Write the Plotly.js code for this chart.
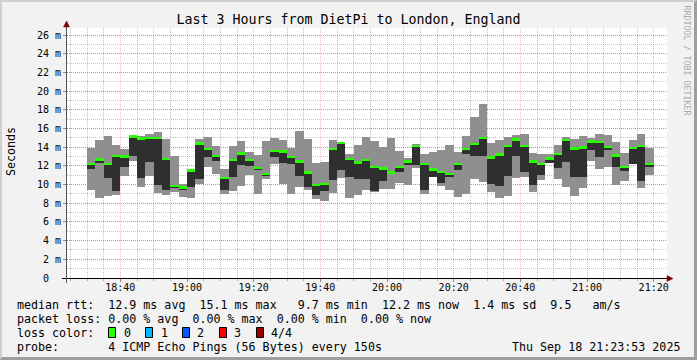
<!DOCTYPE html>
<html><head><meta charset="utf-8">
<script src="https://cdn.plot.ly/plotly-3.0.1.min.js"></script>
<style>
html,body{margin:0;padding:0;background:#f2f2f2;}
#wrap{position:relative;width:697px;height:360px;overflow:hidden;}
#chart{width:697px;height:360px;}
#frame{position:absolute;left:0;top:0;width:697px;height:360px;box-sizing:border-box;border-top:2px solid #cfcfcf;border-left:2px solid #cfcfcf;border-right:3px solid #9e9e9e;border-bottom:3px solid #9e9e9e;pointer-events:none;}
</style>
</head><body>
<div id="wrap"><div id="chart"></div><div id="frame"></div></div>
<script>
// ---- data (values in milliseconds) ----
const day = "2025-09-18";
const stepStart = [
 "18:30:00","18:32:30","18:35:00","18:37:30","18:40:00","18:42:30","18:45:00","18:47:30","18:50:00","18:52:30","18:55:00","18:57:30",
 "19:00:00","19:02:30","19:05:00","19:07:30","19:10:00","19:12:30","19:15:00","19:17:30","19:20:00","19:22:30","19:25:00","19:27:30",
 "19:30:00","19:32:30","19:35:00","19:37:30","19:40:00","19:42:30","19:45:00","19:47:30","19:50:00","19:52:30","19:55:00","19:57:30",
 "20:00:00","20:02:30","20:05:00","20:07:30","20:10:00","20:12:30","20:15:00","20:17:30","20:20:00","20:22:30","20:25:00","20:27:30",
 "20:30:00","20:32:30","20:35:00","20:37:30","20:40:00","20:42:30","20:45:00","20:47:30","20:50:00","20:52:30","20:55:00","20:57:30",
 "21:00:00","21:02:30","21:05:00","21:07:30","21:10:00","21:12:30","21:15:00","21:17:30"];
const pingMax = [13.92,14.74,15.17,14.2,13.78,15.28,15.17,15.46,15.6,14.85,13.05,10.04,
 11.54,14.85,15.1,14.1,11.65,14.1,14.67,13.5,13.14,14.67,14.99,14.82,
 13.92,15.74,14.85,12.32,12.43,14.74,14.56,13.32,14.28,15.1,14.67,14.03,
 14.99,13.57,12.79,14.32,13.25,13.5,13.68,14.21,13.5,15.17,17.24,18.59,
 14.46,14.74,15.1,15.28,15.38,13.39,13.25,13.25,14.21,15.1,14.85,15.17,
 14.99,15.38,15.28,14.56,13.39,14.74,15.38,13.96];
const pingMin = [9.47,8.58,8.76,8.9,10.93,12.53,9.76,10.93,9.11,8.87,9.15,8.69,
 8.58,10.11,11.9,11.11,8.94,9.33,9.86,10.97,8.97,10.58,12.18,10.04,
 8.97,9.76,9.4,8.44,8.23,9.11,10.65,8.58,8.87,9.47,9.15,9.51,
 9.51,10.18,9.94,11.82,8.97,10.76,9.86,9.4,8.69,8.97,10.58,10.29,
 9.22,8.58,8.76,10.65,10.76,9.22,10.47,12.32,10.58,9.76,8.76,9.65,
 12.53,11.65,11.9,9.94,10.4,12.18,9.65,11.0];
const innerHigh = [12.29,12.79,12.29,13.1,13.03,15.2,14.99,15.03,15.03,12.82,9.95,9.76,
 11.54,14.46,13.92,13.1,10.76,12.64,13.35,12.71,11.82,11.18,13.68,13.6,
 13.03,12.5,11.36,10.01,10.11,13.85,14.49,12.79,12.43,12.71,11.97,11.79,
 11.4,11.9,12.5,14.14,12.25,11.65,11.43,11.18,12.25,13.85,14.46,15.03,
 12.96,13.25,14.21,14.82,14.21,12.5,12.25,12.86,13.32,14.82,13.92,14.03,
 14.74,14.64,14.1,13.14,11.97,13.96,14.14,12.25];
const innerLow = [11.65,12.32,10.72,9.33,11.9,13.1,10.65,12.43,9.94,9.44,9.58,9.4,
 9.69,10.58,12.96,12.53,9.47,10.76,12.14,12.0,11.54,10.93,12.96,12.32,
 12.18,10.9,9.76,8.87,9.33,10.47,11.6,10.83,10.58,10.58,9.33,10.4,
 11.1,11.36,12.07,12.07,9.4,10.83,10.18,10.76,11.54,13.32,13.03,13.03,
 10.04,9.86,10.9,13.03,11.36,9.94,11.0,12.32,11.79,12.43,10.76,10.76,
 13.75,12.96,13.68,11.9,11.47,12.25,10.4,11.9];
const median = [12.2,12.7,12.2,13.05,13.0,15.15,14.95,15.0,15.0,12.75,9.85,9.7,
 11.5,14.4,13.8,13.05,10.7,12.6,13.3,12.65,11.75,11.1,13.6,13.55,
 12.95,12.45,11.3,9.95,10.05,13.8,14.45,12.75,12.35,12.65,11.9,11.7,
 11.3,11.85,12.45,14.1,12.2,11.6,11.35,11.1,12.2,13.8,14.35,15.0,
 12.9,13.2,14.15,14.8,14.15,12.45,12.2,12.8,13.25,14.75,13.85,13.95,
 14.6,14.55,14.0,13.1,11.85,13.9,14.1,12.2];
const yTickVals = [0,2,4,6,8,10,12,14,16,18,20,22,24,26];
const yTickText = ["0  ","2 m","4 m","6 m","8 m","10 m","12 m","14 m","16 m","18 m","20 m","22 m","24 m","26 m"];
const titleText = "Last 3 Hours from DietPi to London, England";
const legendRows = [
 "median rtt:  12.9 ms avg  15.1 ms max   9.7 ms min  12.2 ms now  1.4 ms sd  9.5   am/s",
 "packet loss: 0.00 % avg  0.00 % max  0.00 % min  0.00 % now",
 "loss color:",
 "probe:       4 ICMP Echo Pings (56 Bytes) every 150s"];
const lossLabels = ["0","1","2","3","4/4"];
const lossColors = ["#26ff00","#00b8ff","#0059ff","#ff0000","#a10000"];
const stampText = "Thu Sep 18 21:23:53 2025";
const yTitle = "Seconds";
const sideText = "RRDTOOL / TOBI OETIKER";

// ---- layout helpers (pixel -> paper) ----
const L=67,R=667,T=28,B=278;
const px = x => (x-L)/(R-L);
const py = y => (B-y)/(B-T);
const nb = s => s.replace(/ /g,"\u00a0");
const MONO = "DejaVu Sans Mono, monospace";

const xs = stepStart.map(t => day+" "+t);
const STEP = 150000;
const band = 0.13;

const traces = [
 {type:"bar", x:xs, base:pingMin, y:pingMax.map((v,i)=>v-pingMin[i]), width:STEP, offset:0,
  marker:{color:"#8f8f8f", line:{width:0}}, hoverinfo:"skip"},
 {type:"bar", x:xs, base:innerLow, y:innerHigh.map((v,i)=>v-innerLow[i]), width:STEP, offset:0,
  marker:{color:"#2f2f2f", line:{width:0}}, hoverinfo:"skip"},
 {type:"bar", x:xs, base:median.map(v=>v-band), y:median.map(()=>2*band), width:STEP, offset:0,
  marker:{color:lossColors[0], line:{width:0}}, hoverinfo:"skip"}
];

const gridMinor = "rgba(143,143,143,0.55)";
const gridMajor = "rgba(222,48,49,0.35)";

const annotations = [];
const rowsY = [304.5, 318.5, 332.5, 346.5];
legendRows.forEach((r,i)=>annotations.push({xref:"paper",yref:"paper",x:px(16),y:py(rowsY[i]),xanchor:"left",yanchor:"middle",
  text:nb(r),showarrow:false,borderpad:0,font:{family:MONO,size:11.66,color:"#000"}}));
const lossLabelX=[123,160,196.7,233.3,270];
const lossBoxX=[108.5,145.5,182.5,219.5,256.5];
const shapes = [];
lossLabels.forEach((lab,i)=>{
  annotations.push({xref:"paper",yref:"paper",x:px(lossLabelX[i]-0.5),y:py(rowsY[2]),xanchor:"left",yanchor:"middle",
   text:lab,showarrow:false,borderpad:0,font:{family:MONO,size:11.66,color:"#000"}});
  shapes.push({type:"rect",xref:"paper",yref:"paper",x0:px(lossBoxX[i]),x1:px(lossBoxX[i]+7),y0:py(327.5),y1:py(337.5),
   fillcolor:lossColors[i],line:{color:"#000",width:1}});
});
annotations.push({xref:"paper",yref:"paper",x:px(681),y:py(rowsY[3]),xanchor:"right",yanchor:"middle",
  text:nb(stampText),showarrow:false,borderpad:0,font:{family:MONO,size:11.66,color:"#000"}});
annotations.push({xref:"paper",yref:"paper",x:px(11),y:py(152),xanchor:"center",yanchor:"middle",textangle:-90,
  text:yTitle,showarrow:false,borderpad:0,font:{family:MONO,size:11.66,color:"#000"}});
annotations.push({xref:"paper",yref:"paper",x:px(686.5),y:py(60),xanchor:"center",yanchor:"middle",textangle:90,
  text:nb(sideText),showarrow:false,borderpad:0,font:{family:MONO,size:8.3,color:"#aaaaaa"}});

// axes & arrows
shapes.push({type:"line",xref:"paper",yref:"paper",x0:px(62),x1:px(668),y0:py(278.5),y1:py(278.5),line:{color:"#000",width:1}});
shapes.push({type:"line",xref:"paper",yref:"paper",x0:px(66.5),x1:px(66.5),y0:py(283),y1:py(26),line:{color:"#555",width:1}});
shapes.push({type:"path",xref:"paper",yref:"paper",
  path:`M${px(66.5)},${py(21)} L${px(63.5)},${py(27)} L${px(69.5)},${py(27)} Z`,fillcolor:"#7f0000",line:{color:"#7f0000",width:0.5}});
shapes.push({type:"path",xref:"paper",yref:"paper",
  path:`M${px(673)},${py(278.5)} L${px(667)},${py(275.5)} L${px(667)},${py(281.5)} Z`,fillcolor:"#7f0000",line:{color:"#7f0000",width:0.5}});

const layout = {
  width:697, height:360,
  margin:{l:L, r:697-R, t:T, b:360-B, pad:0},
  paper_bgcolor:"#f2f2f2", plot_bgcolor:"#ffffff",
  showlegend:false, barmode:"overlay", bargap:0,
  title:{text:titleText, xref:"container", x:0.5, xanchor:"center", yref:"container", y:1-19/360, yanchor:"middle",
         font:{family:MONO,size:13.3,color:"#000"}},
  xaxis:{type:"date", range:[day+" 18:24:00", day+" 21:24:00"], tick0:day+" 18:00:00", dtick:1200000, tickformat:"%H:%M",
    showgrid:true, gridcolor:gridMajor, griddash:"1px,1px", gridwidth:1,
    ticks:"outside", ticklen:3, tickcolor:"#888", ticklabelstandoff:-3, tickfont:{family:MONO,size:10,color:"#000"},
    minor:{dtick:300000, showgrid:true, gridcolor:gridMinor, griddash:"1px,1px", ticks:"outside", ticklen:2, tickcolor:"#aaa"},
    showline:false, zeroline:false, fixedrange:true},
  yaxis:{range:[0,26.75], tickvals:yTickVals, ticktext:yTickText.map(nb), 
    showgrid:true, gridcolor:gridMajor, griddash:"1px,1px", gridwidth:1,
    ticks:"outside", ticklen:3, tickcolor:"#888", tickfont:{family:MONO,size:10,color:"#000"},
    minor:{dtick:1, showgrid:true, gridcolor:gridMinor, griddash:"1px,1px", ticks:"", ticklen:0},
    showline:false, zeroline:false, fixedrange:true},
  annotations:annotations, shapes:shapes
};
Plotly.newPlot("chart", traces, layout, {staticPlot:true, displayModeBar:false});
</script>
</body></html>
